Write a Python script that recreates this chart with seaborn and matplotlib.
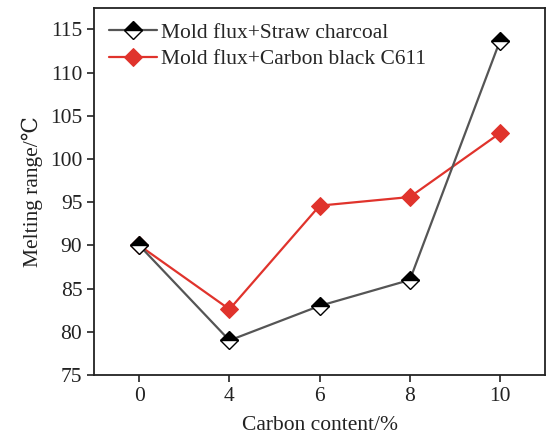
import numpy as np
import pandas as pd
import seaborn as sns
import matplotlib
matplotlib.use("Agg")
import matplotlib.pyplot as plt

carbon_content = ["0", "4", "6", "8", "10"]
straw_charcoal = [90.0, 79.0, 83.0, 86.0, 113.7]
carbon_black = [90.0, 82.6, 94.6, 95.6, 103.0]
series_names = ["Mold flux+Straw charcoal", "Mold flux+Carbon black C611"]

sns.set_theme(style="ticks")
plt.rcParams["font.family"] = ["Liberation Serif", "DejaVu Serif"]

pos = np.arange(len(carbon_content))
df = pd.DataFrame({
    "pos": np.concatenate([pos, pos]),
    "value": straw_charcoal + carbon_black,
    "series": [series_names[0]] * len(pos) + [series_names[1]] * len(pos),
})

fig, ax = plt.subplots(figsize=(5.54, 4.34), dpi=100)
fig.subplots_adjust(left=0.17, right=0.984, top=0.982, bottom=0.136)

red = "#e0332c"
palette = {series_names[0]: "#555555", series_names[1]: red}
sns.lineplot(data=df, x="pos", y="value", hue="series", palette=palette,
             ax=ax, linewidth=1.6, legend=False, sort=False)

lines = ax.get_lines()
lines[0].set_marker("D")
lines[0].set_markersize(9)
lines[0].set_fillstyle("top")
lines[0].set_markerfacecolor("black")
lines[0].set_markerfacecoloralt("white")
lines[0].set_markeredgecolor("black")
lines[0].set_markeredgewidth(1.0)
lines[0].set_zorder(4)

lines[1].set_marker("D")
lines[1].set_markersize(9)
lines[1].set_markerfacecolor(red)
lines[1].set_markeredgecolor(red)
lines[1].set_zorder(3)

ax.legend(handles=lines, labels=series_names, loc="upper left", frameon=False,
          fontsize=15.5, handlelength=2.2, handletextpad=0.2, borderaxespad=0.3,
          labelspacing=0.3, bbox_to_anchor=(0.0, 1.0))

ax.set_xlim(-0.5, 4.5)
ax.set_ylim(75, 117.5)
ax.set_xticks(pos)
ax.set_xticklabels(carbon_content)
ax.set_yticks(np.arange(75, 116, 5))
ax.tick_params(axis="both", direction="out", length=5, width=1.2, labelsize=15.5,
               colors="#222222")
for s in ax.spines.values():
    s.set_visible(True)
    s.set_linewidth(1.3)
    s.set_color("#222222")
ax.tick_params(top=False, right=False)

ax.set_xlabel("Carbon content/%", fontsize=15.5, color="#222222", labelpad=7)
ax.set_ylabel("Melting range/\u2103", fontsize=15.5, color="#222222", labelpad=5)

fig.savefig("out.png", dpi=100)
